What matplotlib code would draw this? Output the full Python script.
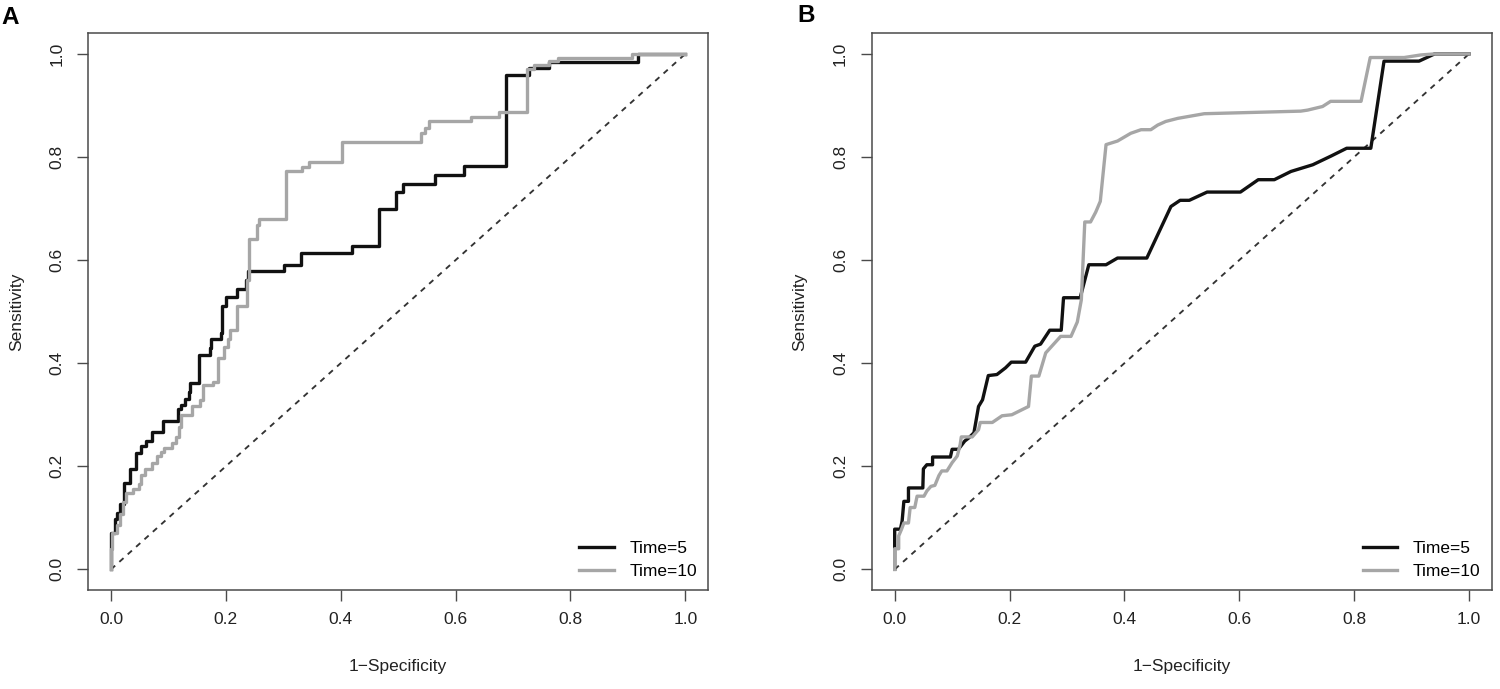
import matplotlib
matplotlib.use("Agg")
import matplotlib.pyplot as plt

plt.rcParams['font.family'] = ['Liberation Sans', 'DejaVu Sans']

# ---- Panel A data (step curves) ----
a5_fpr = [0, 0, 0.007, 0.010, 0.016, 0.023, 0.033, 0.044, 0.053, 0.061, 0.071, 0.091,
          0.116, 0.122, 0.129, 0.135, 0.138, 0.153, 0.172, 0.175, 0.191, 0.194, 0.200,
          0.219, 0.235, 0.239, 0.301, 0.330, 0.419, 0.466, 0.497, 0.508, 0.564, 0.615,
          0.688, 0.728, 0.762, 0.917, 1.0]
a5_tpr = [0, 0.070, 0.097, 0.110, 0.126, 0.168, 0.195, 0.226, 0.240, 0.250, 0.267, 0.287,
          0.312, 0.318, 0.330, 0.345, 0.362, 0.416, 0.430, 0.447, 0.459, 0.511, 0.529,
          0.543, 0.562, 0.578, 0.591, 0.614, 0.628, 0.700, 0.732, 0.748, 0.765, 0.782,
          0.959, 0.972, 0.985, 1.0, 1.0]

a10_fpr = [0, 0, 0.002, 0.010, 0.016, 0.021, 0.026, 0.039, 0.048, 0.052, 0.059, 0.071,
           0.081, 0.087, 0.093, 0.106, 0.114, 0.118, 0.122, 0.141, 0.155, 0.161, 0.177,
           0.186, 0.197, 0.204, 0.208, 0.219, 0.236, 0.240, 0.254, 0.257, 0.305, 0.333,
           0.345, 0.403, 0.539, 0.547, 0.554, 0.627, 0.676, 0.724, 0.737, 0.763, 0.778,
           0.908, 1.0]
a10_tpr = [0, 0.039, 0.070, 0.087, 0.107, 0.130, 0.149, 0.155, 0.165, 0.184, 0.194, 0.207,
           0.219, 0.227, 0.236, 0.246, 0.256, 0.277, 0.300, 0.316, 0.329, 0.358, 0.364,
           0.410, 0.432, 0.446, 0.465, 0.511, 0.562, 0.640, 0.669, 0.680, 0.772, 0.780,
           0.791, 0.829, 0.846, 0.856, 0.869, 0.877, 0.887, 0.970, 0.979, 0.987, 0.992,
           1.0, 1.0]

# ---- Panel B data (polylines) ----
b5_fpr = [0, 0, 0.010, 0.013, 0.016, 0.024, 0.024, 0.049, 0.050, 0.056, 0.066, 0.066,
          0.097, 0.100, 0.111, 0.122, 0.129, 0.138, 0.146, 0.153, 0.163, 0.178, 0.193,
          0.203, 0.228, 0.244, 0.254, 0.270, 0.290, 0.294, 0.323, 0.338, 0.368, 0.388,
          0.439, 0.481, 0.497, 0.513, 0.544, 0.602, 0.633, 0.661, 0.690, 0.728, 0.760,
          0.787, 0.829, 0.852, 0.913, 0.940, 1.0]
b5_tpr = [0, 0.078, 0.078, 0.094, 0.132, 0.132, 0.158, 0.158, 0.195, 0.203, 0.203, 0.218,
          0.218, 0.233, 0.233, 0.249, 0.255, 0.265, 0.316, 0.329, 0.376, 0.378, 0.391,
          0.402, 0.402, 0.433, 0.437, 0.464, 0.464, 0.527, 0.527, 0.591, 0.591, 0.604,
          0.604, 0.704, 0.716, 0.716, 0.732, 0.732, 0.756, 0.756, 0.772, 0.785, 0.802,
          0.817, 0.817, 0.986, 0.986, 1.0, 1.0]

b10_fpr = [0, 0, 0.007, 0.007, 0.012, 0.016, 0.024, 0.027, 0.035, 0.039, 0.051, 0.056,
           0.063, 0.070, 0.077, 0.082, 0.091, 0.100, 0.109, 0.114, 0.116, 0.135, 0.146,
           0.149, 0.170, 0.187, 0.204, 0.233, 0.238, 0.251, 0.263, 0.289, 0.307, 0.318,
           0.325, 0.331, 0.341, 0.350, 0.358, 0.368, 0.388, 0.411, 0.429, 0.446, 0.458,
           0.472, 0.493, 0.539, 0.707, 0.719, 0.745, 0.759, 0.812, 0.828, 0.887, 0.916,
           0.940, 1.0]
b10_tpr = [0, 0.040, 0.040, 0.065, 0.078, 0.090, 0.090, 0.120, 0.120, 0.142, 0.142, 0.152,
           0.161, 0.163, 0.182, 0.191, 0.191, 0.207, 0.220, 0.242, 0.257, 0.257, 0.271,
           0.285, 0.285, 0.298, 0.300, 0.316, 0.375, 0.375, 0.420, 0.452, 0.452, 0.480,
           0.523, 0.674, 0.674, 0.693, 0.714, 0.824, 0.831, 0.846, 0.853, 0.853, 0.862,
           0.869, 0.875, 0.884, 0.889, 0.891, 0.898, 0.908, 0.908, 0.993, 0.993, 0.998,
           1.0, 1.0]

labels = ["Time=5", "Time=10"]
panel_names = ["A", "B"]
ticks = [0.0, 0.2, 0.4, 0.6, 0.8, 1.0]

BLACK = "#111111"
GRAY = "#a6a6a6"
SPINE = "#4a4a4a"
FS = 12.5

fig = plt.figure(figsize=(15, 6.89), dpi=100)
W, H = 1500, 689
axA = fig.add_axes([88 / W, 1 - 590 / H, 620.3 / W, 556.7 / H])
axB = fig.add_axes([871.7 / W, 1 - 590 / H, 620.3 / W, 556.7 / H])

def style(ax):
    ax.set_xlim(-0.04, 1.04)
    ax.set_ylim(-0.04, 1.04)
    ax.set_xticks(ticks)
    ax.set_yticks(ticks)
    ax.set_xticklabels([f"{t:.1f}" for t in ticks])
    ax.set_yticklabels([f"{t:.1f}" for t in ticks], rotation=90, va='center')
    for s in ax.spines.values():
        s.set_color(SPINE)
        s.set_linewidth(1.1)
    ax.tick_params(axis='both', length=8, width=1.0, color=SPINE, labelsize=FS,
                   labelcolor='#222222')
    ax.tick_params(axis='x', pad=8)
    ax.tick_params(axis='y', pad=9)
    ax.plot([0, 1], [0, 1], linestyle=(0, (3, 3)), color='#333333', lw=1.35)
    ax.set_xlabel("1\u2212Specificity", fontsize=FS, color='#222222')
    ax.set_ylabel("Sensitivity", fontsize=FS, color='#222222')
    ax.xaxis.set_label_coords(0.5, -0.124)
    ax.yaxis.set_label_coords(-0.1035, 0.5)

style(axA)
axA.plot(a5_fpr, a5_tpr, drawstyle='steps-post', color=BLACK, lw=2.4, label=labels[0])
axA.plot(a10_fpr, a10_tpr, drawstyle='steps-post', color=GRAY, lw=2.4, label=labels[1])

style(axB)
axB.plot(b5_fpr, b5_tpr, color=BLACK, lw=2.4, label=labels[0])
axB.plot(b10_fpr, b10_tpr, color=GRAY, lw=2.4, label=labels[1])

for ax in (axA, axB):
    ax.legend(loc='lower right', frameon=False, fontsize=FS, handlelength=2.0,
              handletextpad=0.9, labelspacing=0.45, borderaxespad=0.45, borderpad=0.2)

fig.text(10 / W, 1 - 17 / H, panel_names[0], fontsize=17.5, fontweight='bold',
         ha='center', va='center')
fig.text(806 / W, 1 - 16 / H, panel_names[1], fontsize=17.5, fontweight='bold',
         ha='center', va='center')

fig.savefig("out.png", dpi=100)
